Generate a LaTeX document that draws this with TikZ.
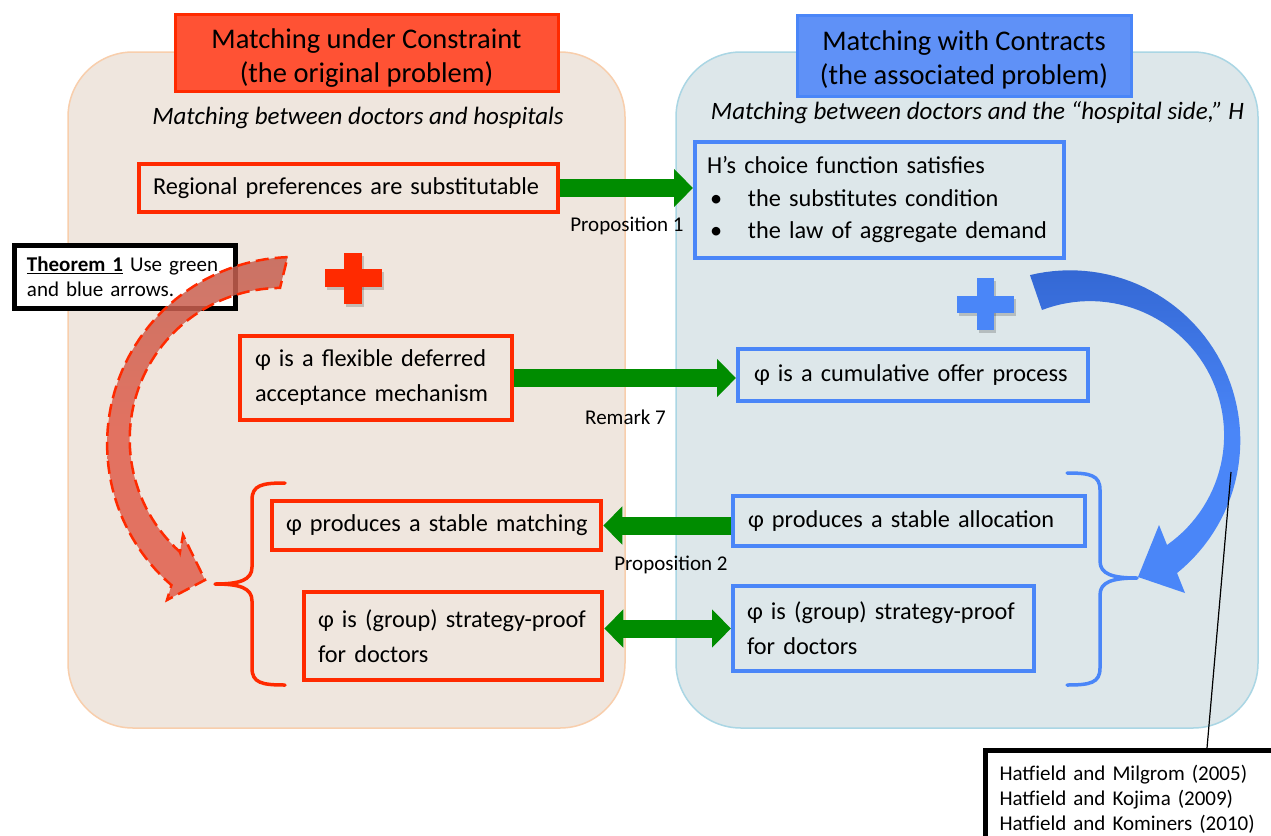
\documentclass[tikz,border=0pt]{standalone}
\usepackage{fontspec}
\setmainfont{Carlito}
\usetikzlibrary{arrows.meta}
\definecolor{redline}{RGB}{255,42,0}
\definecolor{redtitle}{RGB}{255,82,52}
\definecolor{blueline}{RGB}{74,134,248}
\definecolor{bluetitle}{RGB}{95,145,247}
\definecolor{arrowgreen}{RGB}{0,140,0}
\definecolor{leftfill}{RGB}{239,230,222}
\definecolor{leftedge}{RGB}{248,206,172}
\definecolor{rightfill}{RGB}{221,231,234}
\definecolor{rightedge}{RGB}{170,214,228}
\definecolor{redcurve}{RGB}{224,94,76}
\definecolor{redcurvetop}{RGB}{196,96,80}
\definecolor{bluedark}{RGB}{52,104,212}
\begin{document}
\begin{tikzpicture}[x=1pt,y=-1pt,
  panel/.style={rounded corners=65pt, line width=1.5pt},
  txt/.style={font=\fontsize{24.3}{35}\selectfont},
  redbox/.style={draw=redline, line width=4.5pt, txt, align=left, inner sep=0pt},
  bluebox/.style={draw=blueline, line width=4pt, txt, align=left, inner sep=0pt},
  titlebox/.style={line width=3pt, font=\fontsize{28.5}{34}\selectfont, align=center, inner sep=0pt},
  subtitle/.style={font=\itshape\fontsize{25}{30}\selectfont},
  smalllabel/.style={font=\fontsize{21}{25}\selectfont},
  greenarrow/.style={draw=arrowgreen, line width=18pt, -{Triangle[length=19pt,width=37pt]}},
  greenboth/.style={draw=arrowgreen, line width=18pt, {Triangle[length=19pt,width=37pt]}-{Triangle[length=19pt,width=37pt]}},
  bracestroke/.style={line width=3.5pt, line cap=round, line join=round},
  blackbox/.style={draw=black, line width=5pt, fill=white, align=left, inner sep=0pt, font=\fontsize{21}{25}\selectfont},
  plusshadow/.style={fill=black, opacity=0.18},
]
\useasboundingbox (0,0) rectangle (1271,835);
\fill[white] (0,0) rectangle (1271,835);

% panels
\draw[panel, fill=leftfill, draw=leftedge] (68,52) rectangle (625,728);
\draw[panel, fill=rightfill, draw=rightedge] (676,52) rectangle (1258,728);

% titles
\node[titlebox, draw=redline, fill=redtitle, minimum width=383pt, minimum height=77pt] (T1) at (366.5,52.5) {\rule{0pt}{31pt}Matching under Constraint\\(the original problem)};
\node[titlebox, draw=blueline, fill=bluetitle, minimum width=334pt, minimum height=81pt] (T2) at (964,55.5) {\rule{0pt}{29pt}Matching with Contracts\\(the associated problem)};

% subtitles
\node[subtitle] (S1) at (358,118) {Matching between doctors and hospitals};
\node[subtitle] (S2) at (977.5,113) {Matching between doctors and the “hospital side,” H};

% left boxes
\node[redbox, minimum width=419pt, minimum height=48pt, text width=391pt] (B1) at (348.5,188) {\mbox{Regional preferences are substitutable}};
\node[redbox, minimum width=272pt, minimum height=84pt, text width=242pt] (B2) at (376,378) {\mbox{φ is a flexible deferred}\\\mbox{acceptance mechanism}};
\node[redbox, minimum width=329pt, minimum height=49pt, text width=301pt] (B3) at (436.5,525.5) {\mbox{φ produces a stable matching}};
\node[redbox, minimum width=298pt, minimum height=88pt, text width=270pt] (B4) at (453,636) {\mbox{φ is (group) strategy-proof}\\\mbox{for doctors}};

% right boxes
\node[bluebox, font=\fontsize{24.3}{32.5}\selectfont, minimum width=369pt, minimum height=116pt, text width=345pt] (R1) at (879.5,200) {\mbox{H’s choice function satisfies}\\\mbox{\makebox[41pt][l]{\hspace{3pt}\textbullet}the substitutes condition}\\\mbox{\makebox[41pt][l]{\hspace{3pt}\textbullet}the law of aggregate demand}};
\node[bluebox, minimum width=350pt, minimum height=52pt, text width=318pt] (R2) at (913,375) {\mbox{φ is a cumulative offer process}};
\node[bluebox, minimum width=352pt, minimum height=50pt, text width=322pt] (R3) at (909,521) {\mbox{φ produces a stable allocation}};
\node[bluebox, minimum width=301pt, minimum height=85pt, text width=273pt] (R4) at (883.5,628.5) {\mbox{φ is (group) strategy-proof}\\\mbox{for doctors}};

% green arrows
\draw[greenarrow] (B1.east) -- (B1.east -| R1.west);
\draw[greenarrow] (B2.east) -- (B2.east -| R2.west);
\draw[greenarrow] (R3.west |- B3.east) -- (B3.east);
\draw[greenboth] (B4.east |- R4.west) -- (R4.west);

% labels
\node[smalllabel] (L1) at (627,226) {Proposition 1};
\node[smalllabel] (L2) at (625.5,417) {Remark 7};
\node[smalllabel] (L3) at (671,565) {Proposition 2};

% braces
\draw[bracestroke, draw=redline] (285,483) .. controls (262,483) and (252,485) .. (252,500) -- (252,567) .. controls (252,580) and (240,584) .. (215,584) .. controls (240,584) and (252,588) .. (252,601) -- (252,668) .. controls (252,683) and (262,685) .. (285,685);
\draw[bracestroke, draw=blueline] (1067,473) .. controls (1090,473) and (1100,475) .. (1100,490) -- (1100,561) .. controls (1100,574) and (1112,578) .. (1137,578) .. controls (1112,578) and (1100,582) .. (1100,595) -- (1100,668) .. controls (1100,683) and (1090,685) .. (1067,685);

% plus signs
\fill[plusshadow] (326.5,272.25) rectangle (383.5,289.75);
\fill[plusshadow] (346.25,255.5) rectangle (363.75,306.5);
\fill[redline] (324.5,269.25) rectangle (381.5,286.75);
\fill[redline] (344.25,252.5) rectangle (361.75,303.5);
\fill[plusshadow] (958.5,298.5) rectangle (1015.5,315.5);
\fill[plusshadow] (978.5,281) rectangle (995.5,333);
\fill[blueline] (956.5,295.5) rectangle (1013.5,312.5);
\fill[blueline] (976.5,278) rectangle (993.5,330);

% theorem box
\node[blackbox, minimum width=221pt, minimum height=63pt, text width=195pt] (TH) at (124.5,276.5) {\mbox{\textbf{\underline{Theorem 1}} Use green}\\\mbox{and blue arrows.}};

% red curved arrow
\path[top color=redcurvetop, bottom color=redcurve, middle color=redcurve, fill opacity=0.85,
      draw=redline, line width=2.5pt, dash pattern=on 13pt off 6pt]
  plot[domain=268:131, samples=60] ({294.1+187*cos(\x)},{444+187*sin(\x)})
  -- (167,600) -- (205,580) -- (183,535) -- (180,552)
  -- plot[domain=131.9:269.6, samples=60] ({281.1+151.4*cos(\x)},{439.3+151.4*sin(\x)})
  -- cycle;

% blue curved arrow
\path[top color=bluedark, bottom color=blueline, middle color=blueline]
  plot[domain=256.4:411.05, samples=60] ({1070+170.3*cos(\x)},{440.6+170.3*sin(\x)})
  -- (1185,593) -- (1138,577) -- (1159,525) -- (1167,545)
  -- plot[domain=414.96:249, samples=60] ({1090+134.1*cos(\x)},{435.2+134.1*sin(\x)})
  -- cycle;

% references
\node[blackbox, anchor=north west, inner xsep=14pt, inner ysep=15pt, text width=300pt] (REF) at (983,748) {Hatfield and Milgrom (2005)\\Hatfield and Kojima (2009)\\Hatfield and Kominers (2010)};
\coordinate (CP) at (1231,472);
\draw[line width=1.2pt] (CP) -- ([xshift=224pt]REF.north west);
\end{tikzpicture}
\end{document}
